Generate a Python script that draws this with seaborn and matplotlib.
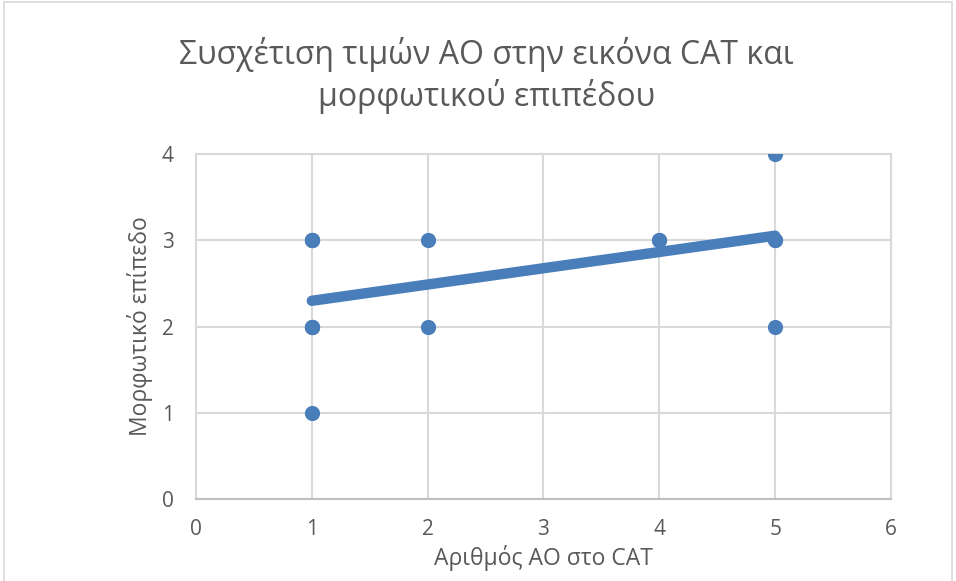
import pandas as pd
import seaborn as sns
import matplotlib.pyplot as plt
from matplotlib.patches import Rectangle

# Δεδομένα (επαναλαμβανόμενα σημεία επικαλύπτονται στο γράφημα)
ao_count = [1, 1, 1, 1, 1, 1, 1, 2, 2, 4, 4, 5, 5, 5, 5]
edu_level = [3, 3, 3, 2, 2, 2, 1, 3, 2, 3, 3, 4, 3, 3, 2]

title = "Συσχέτιση τιμών AO στην εικόνα CAT και\nμορφωτικού επιπέδου"
x_label = "Αριθμός ΑΟ στο CAT"
y_label = "Μορφωτικό επίπεδο"
x_ticks = [0, 1, 2, 3, 4, 5, 6]
y_ticks = [0, 1, 2, 3, 4]

blue = "#4a7ebb"
grey_text = "#595959"
grid_col = "#d9d9d9"

df = pd.DataFrame({"ao": ao_count, "edu": edu_level})

sns.set_theme(style="white")
plt.rcParams["font.family"] = ["Open Sans", "DejaVu Sans"]

fig = plt.figure(figsize=(9.56, 5.81), dpi=100)
ax = fig.add_axes([0.205, 0.141, 0.727, 0.594])

sns.regplot(
    data=df, x="ao", y="edu", ci=None, ax=ax, color=blue,
    scatter_kws={"s": 120, "alpha": 1, "linewidths": 0, "zorder": 3},
    line_kws={"linewidth": 7.5, "solid_capstyle": "round", "zorder": 4},
)

ax.set_xlim(0, 6)
ax.set_ylim(0, 4)
ax.set_xticks(x_ticks)
ax.set_yticks(y_ticks)
ax.grid(True, color=grid_col, linewidth=1.5, zorder=0)
ax.set_axisbelow(True)
for side in ["left", "right", "top"]:
    ax.spines[side].set_color(grid_col)
    ax.spines[side].set_linewidth(1.5)
ax.spines["bottom"].set_color("#bfbfbf")
ax.spines["bottom"].set_linewidth(1.5)

ax.tick_params(length=0, labelsize=15, labelcolor=grey_text)
ax.tick_params(axis="x", pad=14)
ax.tick_params(axis="y", pad=16)

ax.set_xlabel(x_label, fontsize=16.5, color=grey_text, labelpad=4)
ax.set_ylabel(y_label, fontsize=16.5, color=grey_text, labelpad=6)

fig.text(0.509, 0.87, title, ha="center", va="center", fontsize=23,
         color=grey_text, linespacing=1.25)

# περίγραμμα περιοχής γραφήματος
fig.patches.append(Rectangle((0.004, -0.01), 0.992, 1.006, transform=fig.transFigure,
                             fill=False, edgecolor=grid_col, linewidth=1.2))

fig.savefig("out.png", dpi=100)
